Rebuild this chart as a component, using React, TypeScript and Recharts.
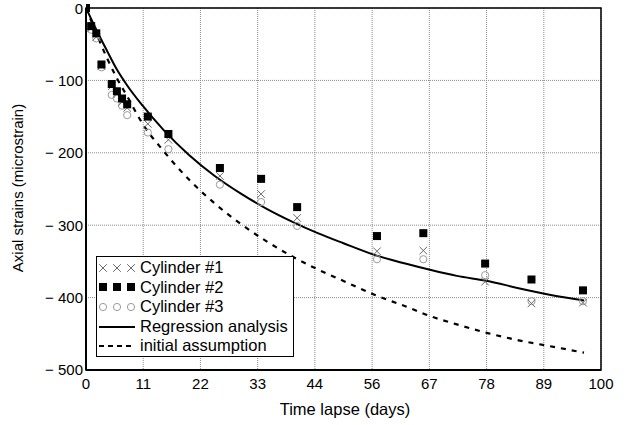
import {
  ComposedChart,
  Line,
  Scatter,
  XAxis,
  YAxis,
  CartesianGrid,
  ReferenceArea,
  Legend,
} from "recharts";

// measurement days shared by the three cylinders
const DAYS = [0, 1, 2, 3, 5, 6, 7, 8, 12, 16, 26, 34, 41, 56.5, 65.5, 77.5, 86.5, 96.5];
const CYL1 = [0, -28, -40, -80, -108, -118, -130, -138, -160, -182, -232, -257, -290, -336, -335, -378, -408, -407];
const CYL2 = [0, -25, -35, -78, -105, -115, -125, -133, -150, -174, -221, -236, -275, -315, -311, -353, -375, -390];
const CYL3 = [0, -30, -42, -82, -120, -125, -135, -148, -172, -195, -244, -268, -301, -347, -347, -369, -405, -405];

// curves
const CURVE_DAYS = [0, 2, 4, 6, 8, 11, 15, 20, 25, 30, 35, 40, 45, 50, 56, 62, 67, 72, 78, 84, 90, 96.7];
const REGRESSION = [0, -30, -58, -85, -107, -135, -168, -203, -232, -256, -277, -295, -311, -325, -341, -353, -362, -370, -377, -387, -396, -404];
const INITIAL = [0, -35, -68, -97, -122, -160, -197, -237, -270, -298, -322, -343, -361, -377, -396, -412, -426, -437, -449, -459, -467, -476];

const X_TICKS = [0, 11.11, 22.22, 33.33, 44.44, 55.56, 66.67, 77.78, 88.89, 100];
const X_LABELS = ["0", "11", "22", "33", "44", "56", "67", "78", "89", "100"];
const Y_TICKS = [-500, -400, -300, -200, -100, 0];

const FONT = "'Liberation Sans', Arial, sans-serif";

const toPoints = (xs: number[], ys: number[]) => xs.map((x, i) => ({ x, y: ys[i] }));

const cyl1Data = toPoints(DAYS, CYL1);
const cyl2Data = toPoints(DAYS, CYL2);
const cyl3Data = toPoints(DAYS, CYL3);
const regData = toPoints(CURVE_DAYS, REGRESSION);
const initData = toPoints(CURVE_DAYS, INITIAL);

function Cross({ cx, cy }: any) {
  const s = 3.8;
  return (
    <g stroke="#6a6a6a" strokeWidth={1}>
      <line x1={cx - s} y1={cy - s} x2={cx + s} y2={cy + s} />
      <line x1={cx - s} y1={cy + s} x2={cx + s} y2={cy - s} />
    </g>
  );
}

function Square({ cx, cy }: any) {
  return <rect x={cx - 4} y={cy - 4} width={8} height={8} fill="#000" />;
}

function Ring({ cx, cy }: any) {
  return <circle cx={cx} cy={cy} r={3.6} fill="none" stroke="#9a9a9a" strokeWidth={1} />;
}

function YTick({ x, y, payload }: any) {
  const v = payload.value;
  return (
    <text x={x + 1} y={y} dy="0.36em" textAnchor="end" fontSize={15} fontFamily={FONT} fill="#000">
      {v === 0 ? "0" : "\u2212 " + Math.abs(v)}
    </text>
  );
}

function XTick({ x, y, payload }: any) {
  const i = X_TICKS.indexOf(payload.value);
  return (
    <text x={x} y={y} dy="0.71em" textAnchor="middle" fontSize={15} fontFamily={FONT} fill="#000">
      {i >= 0 ? X_LABELS[i] : String(Math.round(payload.value))}
    </text>
  );
}

const LEGEND_ROWS = [
  { label: "Cylinder #1", kind: "cross" },
  { label: "Cylinder #2", kind: "square" },
  { label: "Cylinder #3", kind: "ring" },
  { label: "Regression analysis", kind: "solid" },
  { label: "initial assumption", kind: "dash" },
];

function LegendBox() {
  return (
    <div
      style={{
        width: 198,
        height: 101,
        border: "1px solid #000",
        background: "#fff",
        fontFamily: FONT,
        fontSize: 16.5,
        lineHeight: "19.6px",
        color: "#000",
        boxSizing: "border-box",
        paddingTop: 1,
      }}
    >
      {LEGEND_ROWS.map((r) => (
        <div key={r.label} style={{ display: "flex", alignItems: "center", height: 19.6 }}>
          <svg width={43} height={14} style={{ flex: "none" }}>
            {r.kind === "cross" && [6, 20, 34].map((cx) => <Cross key={cx} cx={cx} cy={7} />)}
            {r.kind === "square" && [6, 20, 34].map((cx) => <Square key={cx} cx={cx} cy={7} />)}
            {r.kind === "ring" && [6, 20, 34].map((cx) => <Ring key={cx} cx={cx} cy={7} />)}
            {r.kind === "solid" && <line x1={2} y1={7} x2={38} y2={7} stroke="#000" strokeWidth={2} />}
            {r.kind === "dash" && (
              <line x1={2} y1={7} x2={38} y2={7} stroke="#000" strokeWidth={2} strokeDasharray="5 4" />
            )}
          </svg>
          <span style={{ whiteSpace: "nowrap" }}>{r.label}</span>
        </div>
      ))}
    </div>
  );
}

export default function App() {
  return (
    <div style={{ position: "absolute", left: 0, top: 0, width: 628, height: 425, background: "#fff" }}>
      <ComposedChart width={628} height={425} margin={{ top: 8, right: 27, bottom: 0, left: 0 }}>
        <CartesianGrid stroke="#8a8a8a" strokeDasharray="1 1" />
        <ReferenceArea x1={0} x2={100} y1={-500} y2={0} fill="none" stroke="#000" strokeWidth={1.5} />
        <XAxis
          type="number"
          dataKey="x"
          domain={[0, 100]}
          ticks={X_TICKS}
          allowDataOverflow
          height={55}
          tickLine={false}
          tickSize={6}
          tickMargin={2}
          axisLine={{ stroke: "#000", strokeWidth: 2 }}
          tick={<XTick />}
          label={{
            content: () => (
              <text x={345} y={415} textAnchor="middle" fontSize={16.5} fontFamily={FONT} fill="#000">
                Time lapse (days)
              </text>
            ),
          }}
        />
        <YAxis
          type="number"
          dataKey="y"
          domain={[-500, 0]}
          ticks={Y_TICKS}
          width={86}
          tickLine={false}
          tickSize={3}
          tickMargin={1}
          axisLine={{ stroke: "#000", strokeWidth: 2 }}
          tick={<YTick />}
          label={{
            content: () => (
              <text
                x={23}
                y={188}
                transform="rotate(-90 23 188)"
                textAnchor="middle"
                fontSize={15}
                fontFamily={FONT}
                fill="#000"
              >
                Axial strains (microstrain)
              </text>
            ),
          }}
        />
        <Line
          data={initData}
          dataKey="y"
          type="monotone"
          stroke="#000"
          strokeWidth={2.2}
          strokeDasharray="5 6"
          dot={false}
          isAnimationActive={false}
        />
        <Line
          data={regData}
          dataKey="y"
          type="monotone"
          stroke="#000"
          strokeWidth={2}
          dot={false}
          isAnimationActive={false}
        />
        <Scatter data={cyl3Data} dataKey="y" shape={<Ring />} isAnimationActive={false} />
        <Scatter data={cyl1Data} dataKey="y" shape={<Cross />} isAnimationActive={false} />
        <Scatter data={cyl2Data} dataKey="y" shape={<Square />} isAnimationActive={false} />
        <Legend
          layout="vertical"
          align="center"
          verticalAlign="middle"
          wrapperStyle={{ left: 96, top: 256, width: 198 }}
          content={() => <LegendBox />}
        />
      </ComposedChart>
    </div>
  );
}
